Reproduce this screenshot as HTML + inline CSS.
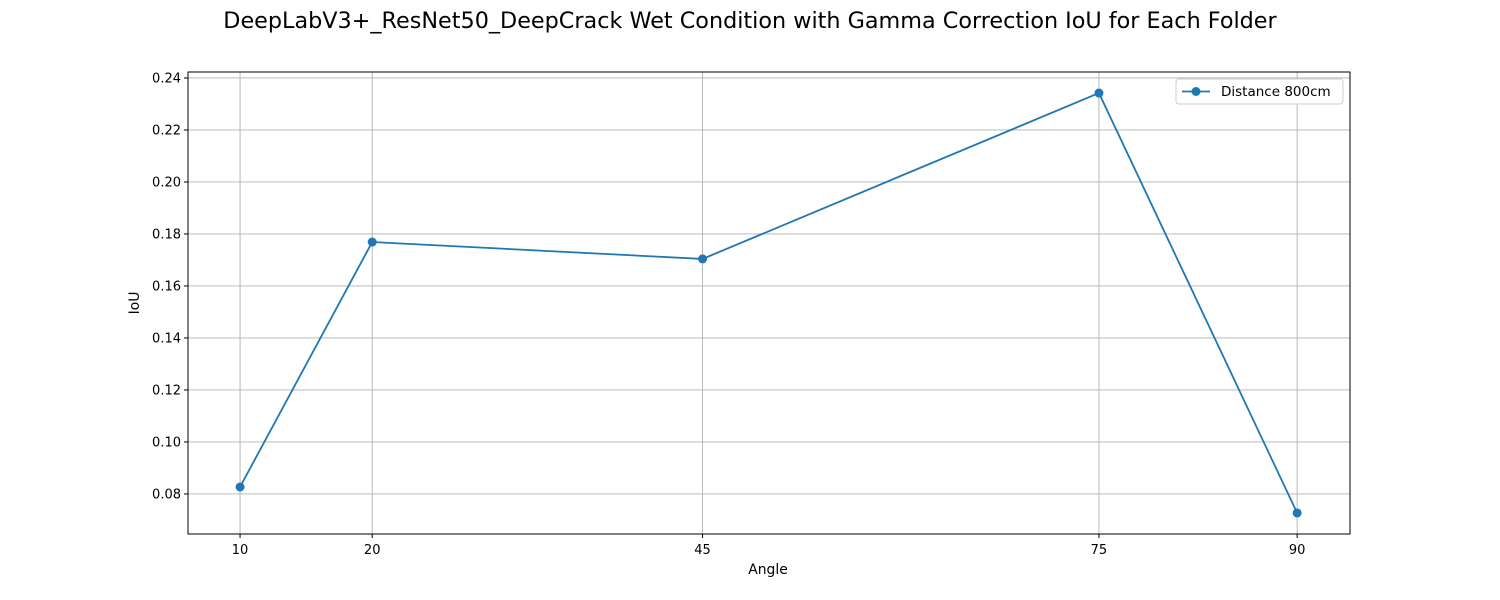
<!DOCTYPE html>
<html><head><meta charset="utf-8"><style>
html,body{margin:0;padding:0;background:#fff;}
svg{display:block;font-family:"DejaVu Sans","Liberation Sans",sans-serif;}
</style></head><body>
<svg id="chart" width="1500" height="600" xmlns="http://www.w3.org/2000/svg">
<rect width="1500" height="600" fill="#fff"/>
<text x="750" y="28" text-anchor="middle" font-size="22.3" fill="#000">DeepLabV3+_ResNet50_DeepCrack Wet Condition with Gamma Correction IoU for Each Folder</text>
<g id="grid"></g>
<g id="axes"></g>
<g id="series"></g>
<text x="768" y="574" text-anchor="middle" font-size="13.9">Angle</text>
<text transform="translate(139,303) rotate(-90)" text-anchor="middle" font-size="13.9">IoU</text>
<g>
<rect x="1176" y="79" width="167" height="25" rx="3" fill="#fff" stroke="#ccc"/>
<line x1="1182" y1="91.5" x2="1210" y2="91.5" stroke="#1f77b4" stroke-width="1.8"/>
<circle cx="1196" cy="91.5" r="4.5" fill="#1f77b4"/>
<text x="1221" y="96" font-size="13.5">Distance 800cm</text>
</g>
</svg>
<script>
const angles = [10, 20, 45, 75, 90];
const iouValues = [0.0827, 0.1769, 0.1704, 0.2342, 0.0727];
const yTicks = [0.08, 0.10, 0.12, 0.14, 0.16, 0.18, 0.20, 0.22, 0.24];
const xTicks = [10, 20, 45, 75, 90];

const L=188,R=1350,T=72,B=534;
const xMin=6.06,xMax=94.0,yMin=0.0646,yMax=0.2423;
const xs=v=>L+(v-xMin)/(xMax-xMin)*(R-L);
const ys=v=>B-(v-yMin)/(yMax-yMin)*(B-T);
const NS="http://www.w3.org/2000/svg";
function mk(tag,attrs,parent,txt){const e=document.createElementNS(NS,tag);for(const k in attrs)e.setAttribute(k,attrs[k]);if(txt!=null)e.textContent=txt;parent.appendChild(e);return e;}
const grid=document.getElementById('grid'),axes=document.getElementById('axes'),series=document.getElementById('series');

yTicks.forEach(t=>{
  const y=ys(t);
  const g=mk('line',{x1:L,x2:R,y1:y,y2:y,stroke:'#b0b0b0','stroke-width':0.9},grid);
  
  
  const tk=mk('line',{x1:L-4,x2:L,y1:y,y2:y,stroke:'#000'},axes);
  
  
  const lb=mk('text',{x:L-7,y:y+4.5,'text-anchor':'end','font-size':13},axes,t.toFixed(2));
  
  
});
xTicks.forEach(t=>{
  const x=xs(t);
  const g=mk('line',{x1:x,x2:x,y1:T,y2:B,stroke:'#b0b0b0','stroke-width':0.9},grid);
  
  
  const tk=mk('line',{x1:x,x2:x,y1:B,y2:B+4,stroke:'#000'},axes);
  
  
  const lb=mk('text',{x:x,y:B+20,'text-anchor':'middle','font-size':13},axes,String(t));
  
  
});
const frame=mk('rect',{x:L,y:T,width:R-L,height:B-T,fill:'none',stroke:'#000','stroke-width':1},axes);



const pts=angles.map((a,i)=>xs(a)+','+ys(iouValues[i])).join(' ');
const line=mk('polyline',{points:pts,fill:'none',stroke:'#1f77b4','stroke-width':1.8},series);


angles.forEach((a,i)=>{
  const c=mk('circle',{cx:xs(a),cy:ys(iouValues[i]),r:4.5,fill:'#1f77b4'},series);
  
  
});
</script>
</body></html>
